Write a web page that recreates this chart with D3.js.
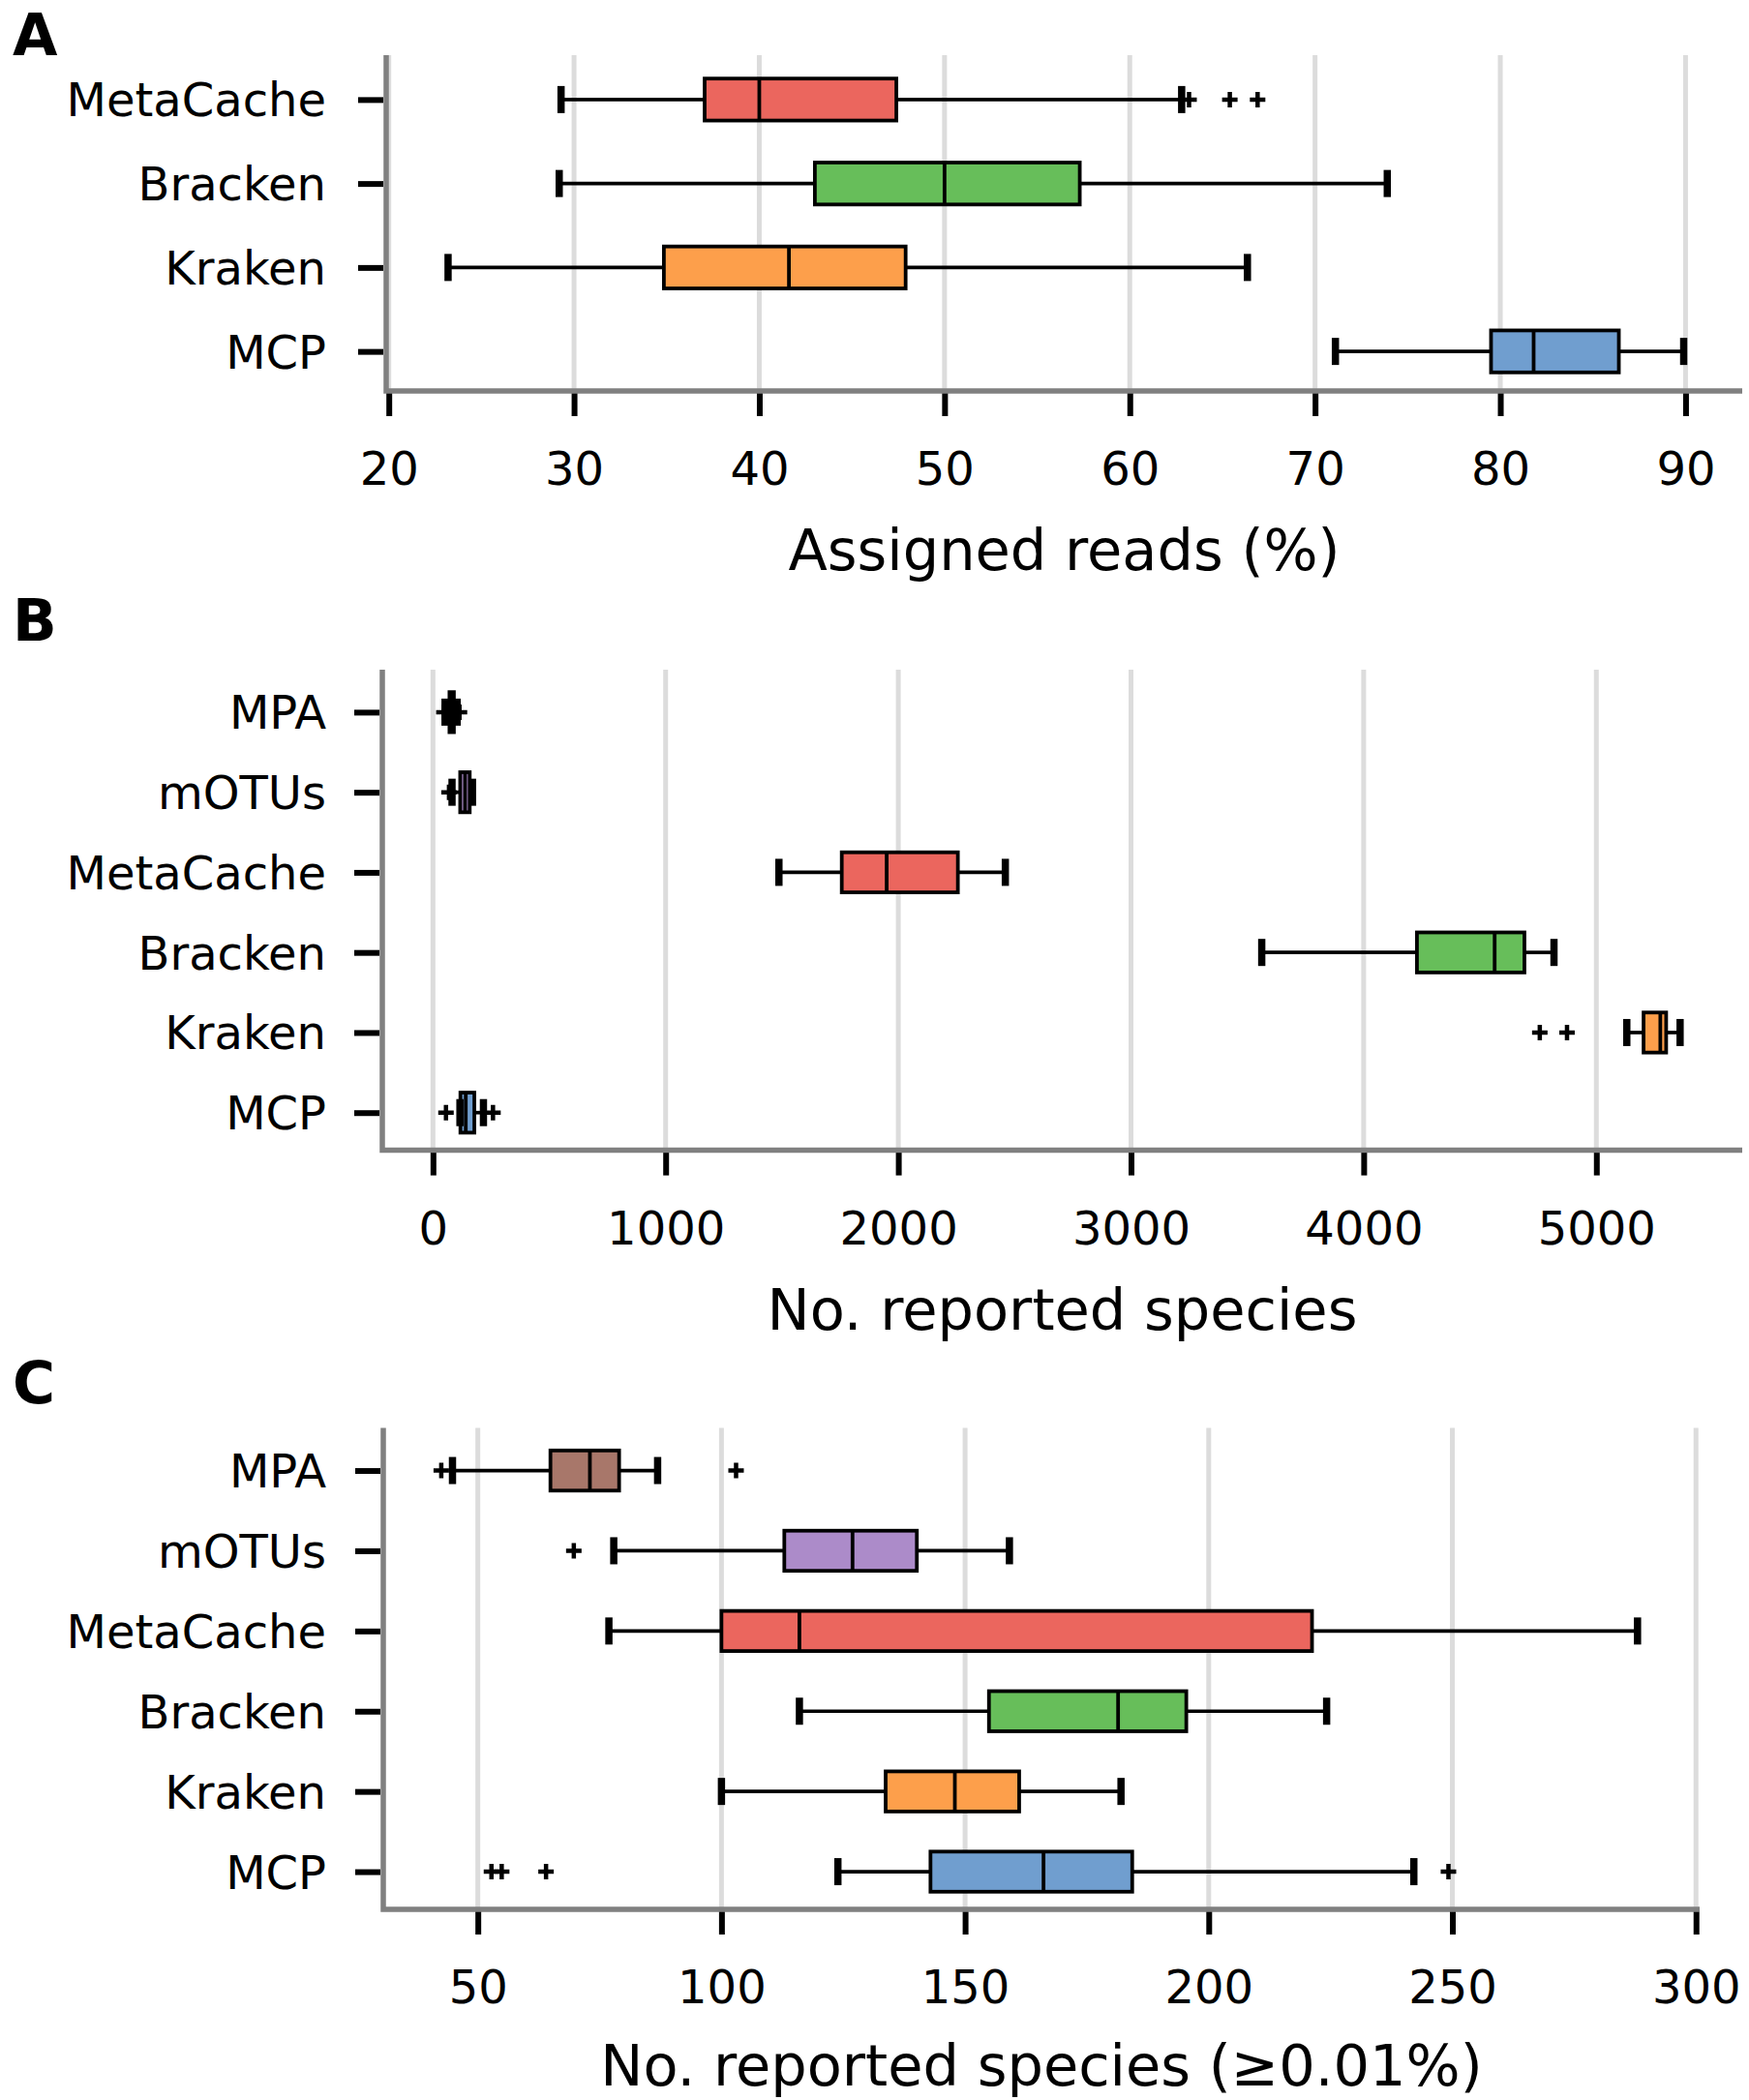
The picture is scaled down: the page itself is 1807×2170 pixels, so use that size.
<!DOCTYPE html>
<html>
<head>
<meta charset="utf-8">
<script src="https://cdn.jsdelivr.net/npm/d3@7"></script>
<style>
  html, body { margin: 0; padding: 0; background: #ffffff; }
  svg { display: block; }
</style>
</head>
<body>
<div id="chart"></div>
<script>
// ---------------- Panel A: Assigned reads (%) ----------------
const aCategories   = ["MetaCache", "Bracken", "Kraken", "MCP"];
const aWhiskerLow   = [29.3, 29.2, 23.2, 71.1];
const aQ1           = [37.05, 43.0, 34.85, 79.5];
const aMedian       = [40.0, 50.0, 41.6, 81.8];
const aQ3           = [47.4, 57.3, 47.9, 86.4];
const aWhiskerHigh  = [62.8, 73.9, 66.35, 89.9];
const aOutliers     = [[63.2, 65.4, 66.9], [], [], []];
const aTicks        = [20, 30, 40, 50, 60, 70, 80, 90];
const aTitle        = "Assigned reads (%)";

// ---------------- Panel B: No. reported species ----------------
const bCategories   = ["MPA", "mOTUs", "MetaCache", "Bracken", "Kraken", "MCP"];
const bWhiskerLow   = [52, 82, 1487, 3562, 5131, 116];
const bQ1           = [71, 117, 1757, 4229, 5203, 118];
const bMedian       = [79, 138, 1950, 4563, 5275, 141];
const bQ3           = [90, 158, 2256, 4691, 5300, 178];
const bWhiskerHigh  = [104, 170, 2460, 4818, 5360, 217];
const bOutliers     = [[47, 114], [69], [], [], [4757, 4874], [56, 258]];
const bTicks        = [0, 1000, 2000, 3000, 4000, 5000];
const bTitle        = "No. reported species";

// ---------------- Panel C: No. reported species (>=0.01%) ----------------
const cCategories   = ["MPA", "mOTUs", "MetaCache", "Bracken", "Kraken", "MCP"];
const cWhiskerLow   = [44.8, 77.9, 76.9, 116.0, 100.0, 123.9];
const cQ1           = [64.9, 112.9, 100.0, 154.9, 133.7, 142.9];
const cMedian       = [73.0, 126.9, 116.0, 181.4, 147.9, 166.1];
const cQ3           = [79.0, 140.1, 221.2, 195.4, 161.1, 184.3];
const cWhiskerHigh  = [86.9, 159.1, 288.0, 224.2, 182.0, 242.1];
const cOutliers     = [[42.5, 103.0], [69.7], [], [], [], [52.8, 54.9, 64.0, 249.2]];
const cTicks        = [50, 100, 150, 200, 250, 300];
const cTitle        = "No. reported species (\u22650.01%)";

// ---------------- styling ----------------
const W = 1807, H = 2170;
const FONT = "'DejaVu Sans', Verdana, sans-serif";
const color = d3.scaleOrdinal()
  .domain(["MPA", "mOTUs", "MetaCache", "Bracken", "Kraken", "MCP"])
  .range(["#a8776a", "#ac8bc9", "#eb665e", "#67be5a", "#fd9f4b", "#709ecf"]);

const svg = d3.select("#chart").append("svg")
  .attr("width", W).attr("height", H)
  .attr("viewBox", `0 0 ${W} ${H}`);
svg.append("rect").attr("width", W).attr("height", H).attr("fill", "#ffffff");

function panel(cfg) {
  const { letter, letterY, left, right, top, bottom, domain, titleGap,
          cats, lo, q1, med, q3, hi, out, ticks, title } = cfg;

  const x = d3.scaleLinear().domain(domain).range([left, right]);
  const y = d3.scalePoint().domain(cats).range([top + 2.5, bottom + 2.5]).padding(0.5);
  const step = y.step();
  const boxH = step * 0.5;
  const capH = 28;

  const g = svg.append("g");

  // panel letter
  g.append("text")
    .attr("x", 13).attr("y", letterY)
    .attr("font-family", FONT).attr("font-weight", "bold")
    .attr("font-size", 60).attr("fill", "#000")
    .text(letter);

  // grid lines
  g.append("g").selectAll("line").data(ticks).join("line")
    .attr("x1", d => x(d)).attr("x2", d => x(d))
    .attr("y1", top).attr("y2", bottom)
    .attr("stroke", "#dcdcdc").attr("stroke-width", 5);

  // x axis (ticks and labels)
  const xAxis = g.append("g")
    .attr("transform", `translate(0,${bottom})`)
    .call(d3.axisBottom(x).tickValues(ticks).tickSize(26).tickFormat(d3.format("d")));
  xAxis.select(".domain").remove();
  xAxis.selectAll(".tick line").attr("stroke", "#000").attr("stroke-width", 6);
  xAxis.selectAll(".tick text")
    .attr("y", 97).attr("dy", null)
    .attr("font-family", FONT).attr("font-size", 48).attr("fill", "#000");

  // y axis
  const yAxis = g.append("g")
    .attr("transform", `translate(${left - 3},0)`)
    .call(d3.axisLeft(y).tickSize(26));
  yAxis.select(".domain").remove();
  yAxis.selectAll(".tick line").attr("stroke", "#000").attr("stroke-width", 6);
  yAxis.selectAll(".tick text")
    .attr("x", -(left - 3 - 337)).attr("dy", null).attr("y", 17)
    .attr("font-family", FONT).attr("font-size", 48).attr("fill", "#000");

  // axis title
  g.append("text")
    .attr("x", (left + right) / 2).attr("y", bottom + titleGap)
    .attr("text-anchor", "middle")
    .attr("font-family", FONT).attr("font-size", 59).attr("fill", "#000")
    .text(title);

  const rows = cats.map((c, i) => ({ c, lo: lo[i], q1: q1[i], med: med[i], q3: q3[i], hi: hi[i], out: out[i] }));
  const bg = g.append("g");

  rows.forEach(r => {
    const cy = y(r.c);
    // whiskers
    bg.append("line").attr("x1", x(r.lo)).attr("x2", x(r.q1)).attr("y1", cy).attr("y2", cy)
      .attr("stroke", "#000").attr("stroke-width", 3.7);
    bg.append("line").attr("x1", x(r.q3)).attr("x2", x(r.hi)).attr("y1", cy).attr("y2", cy)
      .attr("stroke", "#000").attr("stroke-width", 3.7);
    // box
    bg.append("rect")
      .attr("x", x(r.q1)).attr("width", x(r.q3) - x(r.q1))
      .attr("y", cy - boxH / 2).attr("height", boxH)
      .attr("fill", color(r.c)).attr("stroke", "#000").attr("stroke-width", 3.8);
    // caps
    [r.lo, r.hi].forEach(v => {
      bg.append("line").attr("x1", x(v)).attr("x2", x(v))
        .attr("y1", cy - capH / 2).attr("y2", cy + capH / 2)
        .attr("stroke", "#000").attr("stroke-width", 7.5);
    });
    // median
    bg.append("line").attr("x1", x(r.med)).attr("x2", x(r.med))
      .attr("y1", cy - boxH / 2).attr("y2", cy + boxH / 2)
      .attr("stroke", "#000").attr("stroke-width", 3.8);
    // outliers as "+"
    r.out.forEach(v => {
      const px = x(v);
      bg.append("path")
        .attr("d", `M${px - 8},${cy}H${px + 8}M${px},${cy - 8}V${cy + 8}`)
        .attr("stroke", "#000").attr("stroke-width", 4.5).attr("fill", "none");
    });
  });

  // spines
  g.append("path")
    .attr("d", `M${left},${top}V${bottom}H${right}`)
    .attr("fill", "none").attr("stroke", "#808080").attr("stroke-width", 5.5);
}

panel({
  letter: "A", letterY: 57, left: 399, right: 1800, top: 57, bottom: 404,
  domain: [19.86, 93.06], titleGap: 185,
  cats: aCategories, lo: aWhiskerLow, q1: aQ1, med: aMedian, q3: aQ3, hi: aWhiskerHigh,
  out: aOutliers, ticks: aTicks, title: aTitle
});

panel({
  letter: "B", letterY: 662, left: 395, right: 1800, top: 692, bottom: 1188.6,
  domain: [-217.6, 5627], titleGap: 185,
  cats: bCategories, lo: bWhiskerLow, q1: bQ1, med: bMedian, q3: bQ3, hi: bWhiskerHigh,
  out: bOutliers, ticks: bTicks, title: bTitle
});

panel({
  letter: "C", letterY: 1450, left: 396, right: 1756, top: 1475.6, bottom: 1973,
  domain: [30.6, 300.75], titleGap: 182,
  cats: cCategories, lo: cWhiskerLow, q1: cQ1, med: cMedian, q3: cQ3, hi: cWhiskerHigh,
  out: cOutliers, ticks: cTicks, title: cTitle
});
</script>
</body>
</html>
